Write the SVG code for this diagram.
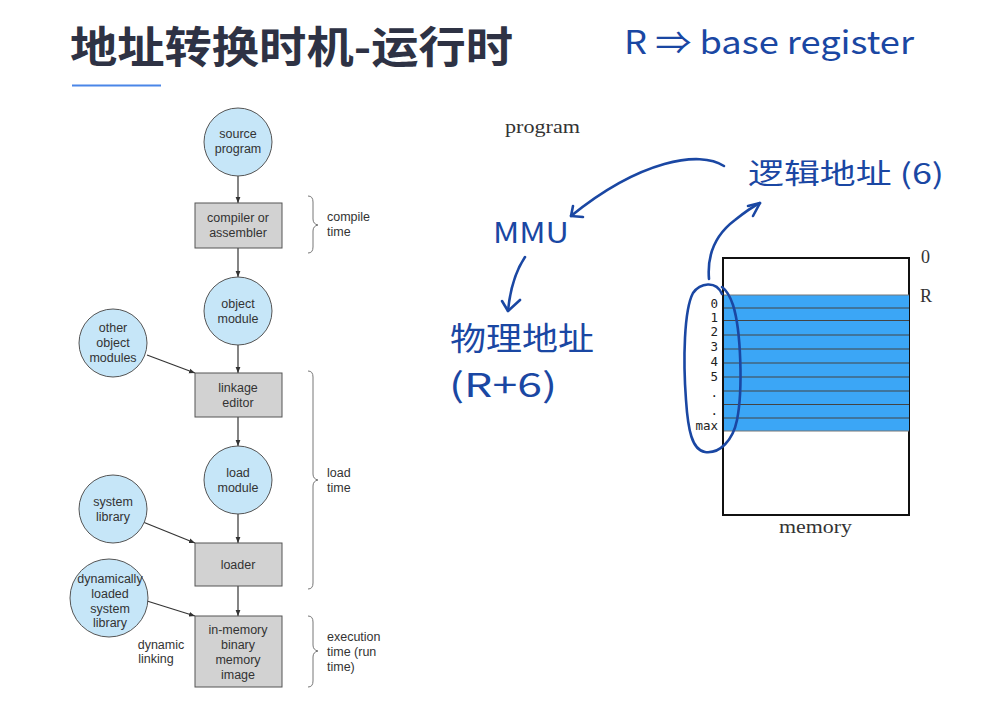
<svg xmlns="http://www.w3.org/2000/svg" width="990" height="707" viewBox="0 0 990 707">
<style>
.c{fill:#c6e6f8;stroke:#555;stroke-width:1}
.b{fill:#d2d2d2;stroke:#555;stroke-width:1}
.t{font-family:"Liberation Sans",Arial,sans-serif;font-size:12.5px;fill:#333;text-anchor:middle}
.tl{font-family:"Liberation Sans",Arial,sans-serif;font-size:12.5px;fill:#333}
.e{stroke:#333;stroke-width:1.2;fill:none;marker-end:url(#ah)}
.br{stroke:#777;stroke-width:1;fill:none}
.hw{fill:#1a47a3;font-family:"Noto Sans CJK SC","Noto Sans",sans-serif;font-weight:400}
.hs{stroke:#1a47a3;stroke-width:2.6;fill:none;stroke-linecap:round;stroke-linejoin:round}
.sf{font-family:"Liberation Serif","DejaVu Serif",serif;fill:#333}
.mono{font-family:"DejaVu Sans Mono","Liberation Mono",monospace;font-size:12.5px;fill:#222;text-anchor:end}
.row{stroke:#444;stroke-width:1}
</style>
<defs>
<marker id="ah" viewBox="0 0 10 10" refX="10" refY="5" markerWidth="6" markerHeight="6" orient="auto" markerUnits="userSpaceOnUse">
<path d="M0,1 L10,5 L0,9 z" fill="#333"/>
</marker>
</defs>
<rect width="990" height="707" fill="#fff"/>
<text x="70" y="63" font-family="'Noto Sans CJK SC',sans-serif" font-weight="700" font-size="43" fill="#2e3244" textLength="443" lengthAdjust="spacingAndGlyphs">地址转换时机-运行时</text>
<line x1="72" y1="85.5" x2="161" y2="85.5" stroke="#4a86e8" stroke-width="2"/>
<text class="hw" x="624" y="54" font-size="32" textLength="290" lengthAdjust="spacingAndGlyphs">R ⇒ base register</text>

<g id="connectors">
<line class="e" x1="238" y1="176" x2="238" y2="203"/>
<line class="e" x1="238" y1="248" x2="238" y2="277"/>
<line class="e" x1="238" y1="345" x2="238" y2="373"/>
<line class="e" x1="147" y1="355" x2="195" y2="373"/>
<line class="e" x1="238" y1="417" x2="238" y2="446"/>
<line class="e" x1="238" y1="514" x2="238" y2="543"/>
<line class="e" x1="143" y1="522" x2="195" y2="543"/>
<line class="e" x1="238" y1="586" x2="238" y2="616"/>
<line class="e" x1="147" y1="601" x2="195" y2="616"/>
</g>

<g id="source-program"><circle class="c" cx="238" cy="142" r="34"/><text class="t" x="238" y="138">source</text><text class="t" x="238" y="153">program</text></g>
<g id="compiler"><rect class="b" x="195" y="203" width="87" height="45"/><text class="t" x="238" y="222">compiler or</text><text class="t" x="238" y="237">assembler</text></g>
<g id="object-module"><circle class="c" cx="238" cy="311" r="34"/><text class="t" x="238" y="308">object</text><text class="t" x="238" y="323">module</text></g>
<g id="other-object-modules"><circle class="c" cx="113" cy="343" r="34"/><text class="t" x="113" y="332">other</text><text class="t" x="113" y="347">object</text><text class="t" x="113" y="362">modules</text></g>
<g id="linkage-editor"><rect class="b" x="195" y="373" width="87" height="44"/><text class="t" x="238" y="392">linkage</text><text class="t" x="238" y="407">editor</text></g>
<g id="load-module"><circle class="c" cx="238" cy="480" r="34"/><text class="t" x="238" y="477">load</text><text class="t" x="238" y="492">module</text></g>
<g id="system-library"><circle class="c" cx="113" cy="509" r="34"/><text class="t" x="113" y="506">system</text><text class="t" x="113" y="521">library</text></g>
<g id="loader"><rect class="b" x="195" y="543" width="87" height="43"/><text class="t" x="238" y="569">loader</text></g>
<g id="dynamic-library"><circle class="c" cx="109" cy="598" r="39"/><text class="t" x="110" y="583">dynamically</text><text class="t" x="110" y="598">loaded</text><text class="t" x="110" y="613">system</text><text class="t" x="110" y="627">library</text></g>
<g id="in-memory"><rect class="b" x="195" y="616" width="87" height="71"/><text class="t" x="238" y="634">in-memory</text><text class="t" x="238" y="649">binary</text><text class="t" x="238" y="664">memory</text><text class="t" x="238" y="679">image</text></g>
<g id="dynamic-linking-label"><text class="t" x="161" y="649">dynamic</text><text class="t" x="156" y="663">linking</text></g>

<g id="braces">
<path class="br" d="M308,196 Q313,196 313,202 L313,219 Q313,224 318,225 Q313,226 313,231 L313,247 Q313,253 308,253"/>
<text class="tl" x="327" y="221">compile</text><text class="tl" x="327" y="236">time</text>
<path class="br" d="M308,371 Q313,371 313,377 L313,474 Q313,479 318,480 Q313,481 313,486 L313,583 Q313,589 308,589"/>
<text class="tl" x="327" y="477">load</text><text class="tl" x="327" y="492">time</text>
<path class="br" d="M308,616 Q313,616 313,622 L313,645 Q313,650 318,651 Q313,652 313,657 L313,681 Q313,687 308,687"/>
<text class="tl" x="327" y="641">execution</text><text class="tl" x="327" y="656">time (run</text><text class="tl" x="327" y="671">time)</text>
</g>

<text class="sf" x="505" y="133" font-size="19" textLength="75" lengthAdjust="spacingAndGlyphs">program</text>

<g id="memory">
<rect x="723" y="258" width="186" height="257" fill="#fff" stroke="#111" stroke-width="2"/>
<rect x="723" y="295" width="186" height="136" fill="#3ba6f6"/>
<g class="row">
<line x1="723" y1="295" x2="909" y2="295" stroke="#777"/>
<line x1="723" y1="308" x2="909" y2="308"/>
<line x1="723" y1="320.5" x2="909" y2="320.5"/>
<line x1="723" y1="335" x2="909" y2="335"/>
<line x1="723" y1="349" x2="909" y2="349"/>
<line x1="723" y1="363" x2="909" y2="363"/>
<line x1="723" y1="377" x2="909" y2="377"/>
<line x1="723" y1="391" x2="909" y2="391"/>
<line x1="723" y1="404.5" x2="909" y2="404.5"/>
<line x1="723" y1="418" x2="909" y2="418"/>
<line x1="723" y1="431" x2="909" y2="431" stroke="#777"/>
</g>
<line x1="723" y1="258" x2="723" y2="515" stroke="#111" stroke-width="2"/>
<text class="mono" x="718" y="308">0</text>
<text class="mono" x="718" y="322">1</text>
<text class="mono" x="718" y="336">2</text>
<text class="mono" x="718" y="351">3</text>
<text class="mono" x="718" y="366">4</text>
<text class="mono" x="718" y="381">5</text>
<text class="mono" x="718" y="397">.</text>
<text class="mono" x="718" y="415">.</text>
<text class="mono" x="718" y="430">max</text>
<text class="sf" x="921" y="263" font-size="18">0</text>
<text class="sf" x="920" y="302" font-size="18">R</text>
<text class="sf" x="779" y="533" font-size="19" textLength="73" lengthAdjust="spacingAndGlyphs">memory</text>
</g>

<g id="handwriting">
<path class="hs" d="M722,294 C716,280 700,283 693,293 C684,310 683,360 686,400 C688,430 692,450 705,452 C720,454 733,440 737,420 C743,390 741,330 733,305 C730,296 726,290 722,287"/>
<path class="hs" d="M709,279 C707,255 715,235 735,220 C745,212 752,207 760,203"/>
<path class="hs" d="M748,206 L760,203 L753,216"/>
<text class="hw" x="748" y="184" font-size="28" textLength="196" lengthAdjust="spacingAndGlyphs">逻辑地址 (6)</text>
<path class="hs" d="M724,166 C700,150 640,160 571,216"/>
<path class="hs" d="M573,206 L571,216 L583,217"/>
<text class="hw" x="493" y="243" font-size="29" textLength="76" lengthAdjust="spacingAndGlyphs">MMU</text>
<path class="hs" d="M525,257 C515,272 510,290 508,311"/>
<path class="hs" d="M502,301 L508,311 L520,300"/>
<text class="hw" x="450" y="350" font-size="32" textLength="144" lengthAdjust="spacingAndGlyphs">物理地址</text>
<text class="hw" x="449" y="397" font-size="33" textLength="108" lengthAdjust="spacingAndGlyphs">(R+6)</text>
</g>
</svg>
